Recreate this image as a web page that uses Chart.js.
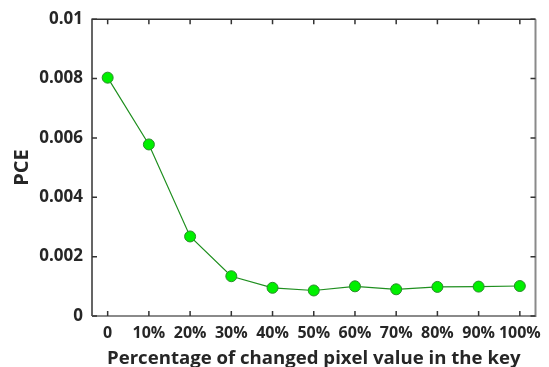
<!DOCTYPE html>
<html>
<head>
<meta charset="utf-8">
<script src="https://cdn.jsdelivr.net/npm/chart.js@4/dist/chart.umd.min.js"></script>
<style>
  html, body { margin: 0; padding: 0; background: #fff; }
  #wrap { width: 549px; height: 367px; }
</style>
</head>
<body>
<div id="wrap"><canvas id="pceChart" width="549" height="367"></canvas></div>
<script>
const categories = ['0', '10%', '20%', '30%', '40%', '50%', '60%', '70%', '80%', '90%', '100%'];
const pceValues = [0.00803, 0.00578, 0.00268, 0.00134, 0.00095, 0.00086, 0.00100, 0.00090, 0.00098, 0.00099, 0.00101];
const yTicks = [0, 0.002, 0.004, 0.006, 0.008, 0.01];

const textColor = '#262626';
const fontFamily = "'Open Sans', sans-serif";

// box around the plot with inward ticks, like the original figure
const frameBox = {
    id: 'frameBox',
    afterDraw(chart) {
        const ctx = chart.ctx;
        const a = chart.chartArea;
        const xs = chart.scales.x;
        const ys = chart.scales.y;
        const tl = 5;
        ctx.save();
        ctx.lineWidth = 1.5;

        ctx.strokeStyle = '#333';
        ctx.beginPath();
        ctx.moveTo(a.left, a.bottom);
        ctx.lineTo(a.left, a.top);
        ctx.lineTo(a.right, a.top);
        ctx.stroke();

        ctx.strokeStyle = '#8a8a8a';
        ctx.lineWidth = 2;
        ctx.beginPath();
        ctx.moveTo(a.right, a.top);
        ctx.lineTo(a.right, a.bottom);
        ctx.lineTo(a.left, a.bottom);
        ctx.stroke();

        ctx.strokeStyle = '#333';
        ctx.lineWidth = 1.5;
        ctx.beginPath();
        categories.forEach((c, i) => {
            const px = xs.getPixelForValue(i);
            ctx.moveTo(px, a.bottom);
            ctx.lineTo(px, a.bottom - tl);
            ctx.moveTo(px, a.top);
            ctx.lineTo(px, a.top + tl);
        });
        yTicks.forEach(v => {
            const py = ys.getPixelForValue(v);
            ctx.moveTo(a.left, py);
            ctx.lineTo(a.left + tl, py);
            ctx.moveTo(a.right, py);
            ctx.lineTo(a.right - tl, py);
        });
        ctx.stroke();
        ctx.restore();
    }
};

const ctx = document.getElementById('pceChart').getContext('2d');

new Chart(ctx, {
    type: 'line',
    data: {
        datasets: [{
            data: pceValues.map((v, i) => ({ x: i, y: v })),
            borderColor: '#1f8f1f',
            borderWidth: 1.2,
            backgroundColor: '#00f000',
            pointBackgroundColor: '#00f000',
            pointBorderColor: '#2a8a2a',
            pointBorderWidth: 1,
            pointRadius: 5.5,
            tension: 0,
            fill: false
        }]
    },
    options: {
        responsive: false,
        animation: false,
        layout: { padding: { top: 17, right: 3, left: 0, bottom: 0 } },
        plugins: {
            legend: { display: false },
            tooltip: { enabled: false }
        },
        scales: {
            x: {
                type: 'linear',
                min: -0.38,
                max: 10.38,
                afterBuildTicks: scale => {
                    scale.ticks = categories.map((c, i) => ({ value: i }));
                },
                afterFit: scale => { scale.height = 51; },
                grid: { display: false, drawTicks: false },
                border: { display: false },
                ticks: {
                    color: textColor,
                    padding: 8,
                    maxRotation: 0,
                    autoSkip: false,
                    font: { family: fontFamily, size: 16, weight: 'bold' },
                    callback: v => categories[v]
                },
                title: {
                    display: true,
                    text: 'Percentage of changed pixel value in the key',
                    color: textColor,
                    padding: { top: 0, bottom: -3 },
                    font: { family: fontFamily, size: 18.6, weight: 'bold' }
                }
            },
            y: {
                min: 0,
                max: 0.01,
                afterBuildTicks: scale => {
                    scale.ticks = yTicks.map(v => ({ value: v }));
                },
                afterFit: scale => { scale.width = 92; },
                grid: { display: false, drawTicks: false },
                border: { display: false },
                ticks: {
                    color: textColor,
                    padding: 9,
                    font: { family: fontFamily, size: 17, weight: 'bold' },
                    callback: v => v === 0 ? '0' : String(+v.toFixed(3))
                },
                title: {
                    display: true,
                    text: 'PCE',
                    color: textColor,
                    padding: { top: 10, bottom: 0 },
                    font: { family: fontFamily, size: 20, weight: 'bold' }
                }
            }
        }
    },
    plugins: [frameBox]
});
</script>
</body>
</html>
